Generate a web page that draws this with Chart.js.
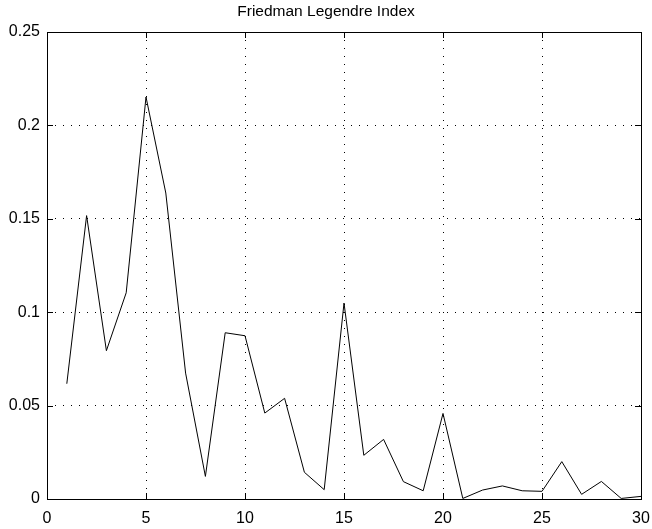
<!DOCTYPE html>
<html>
<head>
<meta charset="utf-8">
<title>Friedman Legendre Index</title>
<script src="https://cdn.jsdelivr.net/npm/chart.js@4"></script>
<style>
  html, body { margin: 0; padding: 0; background: #fff; }
  #wrap { width: 652px; height: 529px; }
</style>
</head>
<body>
<div id="wrap"><canvas id="myChart" width="652" height="529"></canvas></div>
<script>
// index value for each projection order
const orders = [];
for (let i = 1; i <= 30; i++) orders.push(i);
const indexValues = [
    0.0617, 0.1517, 0.0794, 0.1104, 0.2152, 0.1638, 0.0674, 0.0121, 0.0890, 0.0874,
    0.0460, 0.0539, 0.0143, 0.0050, 0.1049, 0.0234, 0.0319, 0.0093, 0.0044, 0.0458,
    0.0003, 0.0048, 0.0070, 0.0044, 0.0041, 0.0200, 0.0025, 0.0094, 0.0003, 0.0014
];
const xTicks = [0, 5, 10, 15, 20, 25, 30];
const yTicks = [0, 0.05, 0.1, 0.15, 0.2, 0.25];

const points = orders.map((o, i) => ({ x: o, y: indexValues[i] }));

const dotted = [1, 7];

// box around the axes with short inward tick marks on every side
const boxTicks = {
    id: 'boxTicks',
    afterDraw(chart) {
        const { ctx, chartArea: a, scales } = chart;
        const len = 6;
        ctx.save();
        ctx.strokeStyle = '#000';
        ctx.lineWidth = 1;
        ctx.beginPath();
        for (const v of xTicks) {
            const px = Math.round(scales.x.getPixelForValue(v)) + 0.5;
            ctx.moveTo(px, a.bottom); ctx.lineTo(px, a.bottom - len);
            ctx.moveTo(px, a.top); ctx.lineTo(px, a.top + len);
        }
        for (const v of yTicks) {
            const py = Math.round(scales.y.getPixelForValue(v)) + 0.5;
            ctx.moveTo(a.left, py); ctx.lineTo(a.left + len, py);
            ctx.moveTo(a.right, py); ctx.lineTo(a.right - len, py);
        }
        ctx.stroke();
        ctx.strokeRect(Math.round(a.left) + 0.5, Math.round(a.top) + 0.5,
            Math.round(a.right - a.left), Math.round(a.bottom - a.top));
        ctx.restore();
    }
};

const ctx = document.getElementById('myChart').getContext('2d');

const myChart = new Chart(ctx, { //eslint-disable-line
    type: 'line',
    data: {
        datasets: [{
            label: 'Friedman Legendre Index',
            data: points,
            borderColor: '#000',
            borderWidth: 1,
            pointRadius: 0,
            tension: 0,
            fill: false
        }]
    },
    options: {
        responsive: false,
        animation: false,
        layout: { padding: 0 },
        plugins: {
            legend: { display: false },
            tooltip: { enabled: false },
            title: {
                display: true,
                text: 'Friedman Legendre Index',
                color: '#000',
                font: { family: 'Liberation Sans', size: 15.5, weight: 'normal', lineHeight: 1.2 },
                padding: { top: 2, bottom: 11.4 }
            }
        },
        scales: {
            x: {
                type: 'linear',
                min: 0,
                max: 30,
                afterBuildTicks(scale) { scale.ticks = xTicks.map(v => ({ value: v })); },
                afterFit(scale) {
                    scale.height = 30;
                    // keep room for the "30" label on the right edge
                    scale.paddingLeft = 0;
                    scale.paddingRight = 11;
                },
                ticks: {
                    color: '#000',
                    font: { family: 'Liberation Sans', size: 16 },
                    padding: 10,
                    maxRotation: 0
                },
                grid: {
                    color: '#000',
                    lineWidth: 1,
                    drawTicks: false,
                    borderDash: dotted
                },
                border: { display: false, dash: dotted }
            },
            y: {
                min: 0,
                max: 0.25,
                afterBuildTicks(scale) { scale.ticks = yTicks.map(v => ({ value: v })); },
                afterFit(scale) { scale.width = 47; },
                ticks: {
                    color: '#000',
                    font: { family: 'Liberation Sans', size: 16 },
                    padding: 7,
                    callback: v => String(Number(v.toFixed(2)))
                },
                grid: {
                    color: '#000',
                    lineWidth: 1,
                    drawTicks: false,
                    borderDash: dotted
                },
                border: { display: false, dash: dotted }
            }
        }
    },
    plugins: [boxTicks]
});
</script>
</body>
</html>
